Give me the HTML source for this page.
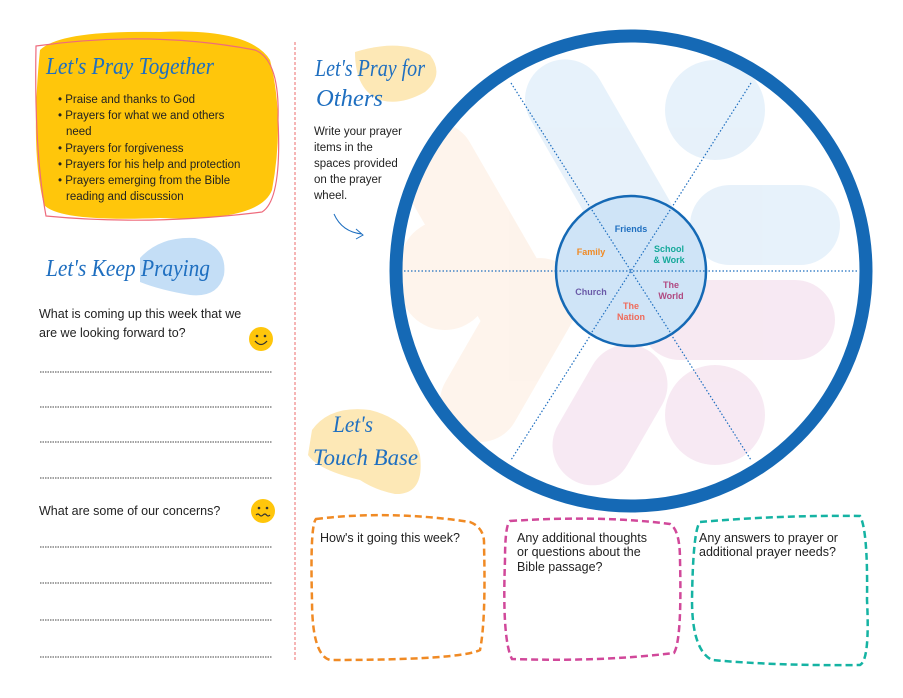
<!DOCTYPE html>
<html><head><meta charset="utf-8"><style>
body{margin:0;background:#fff;}
svg{display:block;font-family:"Liberation Sans",sans-serif;}
.s{font-family:"Liberation Serif",serif;font-style:italic;fill:#1f6fc0;}
</style></head><body>
<svg width="903" height="698" viewBox="0 0 903 698">
<path d="M40 50 Q60 30 160 32 Q250 28 270 60 Q285 120 272 190 Q260 222 160 218 Q60 222 44 205 Q30 150 40 50Z" fill="#ffc60b"/>
<path d="M36 46 Q150 30 255 50 Q280 60 278 120 Q282 200 262 212 Q150 226 46 216 Q34 150 36 46Z" fill="none" stroke="#ee6b7c" stroke-width="1.2"/>
<text x="46" y="74" class="s" font-size="24" textLength="168" lengthAdjust="spacingAndGlyphs">Let's Pray Together</text>
<g font-size="11.5" fill="#222">
<text x="58" y="103">• Praise and thanks to God</text>
<text x="58" y="119">• Prayers for what we and others</text>
<text x="66" y="135">need</text>
<text x="58" y="152">• Prayers for forgiveness</text>
<text x="58" y="168">• Prayers for his help and protection</text>
<text x="58" y="184">• Prayers emerging from the Bible</text>
<text x="66" y="200">reading and discussion</text>
</g>
<path d="M140 258 Q160 236 195 238 Q228 246 224 275 Q218 298 190 295 Q160 290 140 282Z" fill="#c4def6"/>
<text x="46" y="276" class="s" font-size="24" textLength="164" lengthAdjust="spacingAndGlyphs">Let's Keep Praying</text>
<g font-size="12.5" fill="#222">
<text x="39" y="318">What is coming up this week that we</text>
<text x="39" y="337">are we looking forward to?</text>
<text x="39" y="515">What are some of our concerns?</text>
</g>
<circle cx="261" cy="339" r="12" fill="#ffc60b"/>
<circle cx="257" cy="336" r="1.3" fill="#333"/><circle cx="265" cy="336" r="1.3" fill="#333"/>
<path d="M255 341 Q261 348 267 341" stroke="#333" fill="none" stroke-width="1.3"/>
<circle cx="263" cy="511" r="12" fill="#ffc60b"/>
<circle cx="259" cy="508" r="1.3" fill="#333"/><circle cx="267" cy="508" r="1.3" fill="#333"/>
<path d="M256 515 q2-2 3.5 0 t3.5 0 t3.5 0 t3.5 0" stroke="#333" fill="none" stroke-width="1.2"/>
<g stroke="#444" stroke-width="1" stroke-dasharray="1.5 1">
<line x1="40" y1="372" x2="272" y2="372"/><line x1="40" y1="407" x2="272" y2="407"/>
<line x1="40" y1="442" x2="272" y2="442"/><line x1="40" y1="478" x2="272" y2="478"/>
<line x1="40" y1="547" x2="272" y2="547"/><line x1="40" y1="583" x2="272" y2="583"/>
<line x1="40" y1="620" x2="272" y2="620"/><line x1="40" y1="657" x2="272" y2="657"/>
</g>
<line x1="295" y1="42" x2="295" y2="662" stroke="#ee6b6b" stroke-width="1" stroke-dasharray="3 2"/>
<path d="M355 52 Q400 38 430 55 Q445 75 425 92 Q400 106 380 100 Q355 90 355 52Z" fill="#fde8b6"/>
<text x="315" y="76" class="s" font-size="24" textLength="110" lengthAdjust="spacingAndGlyphs">Let's Pray for</text>
<text x="316" y="106" class="s" font-size="24" textLength="67" lengthAdjust="spacingAndGlyphs">Others</text>
<g font-size="11.5" fill="#222">
<text x="314" y="135">Write your prayer</text>
<text x="314" y="151">items in the</text>
<text x="314" y="167">spaces provided</text>
<text x="314" y="183">on the prayer</text>
<text x="314" y="199">wheel.</text>
</g>
<path d="M334 214 Q342 232 362 234 M356 229 L363 235 L356 239" stroke="#1f6fc0" fill="none" stroke-width="1"/>
<defs><clipPath id="c"><circle cx="631" cy="271" r="236"/></clipPath></defs>
<g clip-path="url(#c)" opacity="0.55">
<rect x="400" y="220" width="90" height="110" rx="45" fill="#fdebdc"/>
<rect x="440" y="110" width="80" height="260" rx="40" fill="#fdebdc" transform="rotate(-30 480 240)"/>
<rect x="470" y="250" width="80" height="200" rx="40" fill="#fdebdc" transform="rotate(30 510 350)"/>
<rect x="560" y="50" width="80" height="220" rx="40" fill="#d4e7f7" transform="rotate(-30 600 160)"/>
<circle cx="715" cy="110" r="50" fill="#d4e7f7"/>
<rect x="690" y="185" width="150" height="80" rx="40" fill="#d4e7f7"/>
<rect x="640" y="280" width="195" height="80" rx="40" fill="#f1d8e9"/>
<rect x="570" y="340" width="80" height="150" rx="40" fill="#f1d8e9" transform="rotate(30 610 415)"/>
<circle cx="715" cy="415" r="50" fill="#f1d8e9"/>
</g>
<circle cx="631" cy="271" r="235" fill="none" stroke="#1569b5" stroke-width="13"/>
<g stroke="#1f6fc0" stroke-width="1.2" stroke-dasharray="1.5 2">
<line x1="404" y1="271" x2="858" y2="271"/>
<line x1="511" y1="83" x2="751" y2="460"/>
<line x1="751" y1="83" x2="511" y2="460"/>
</g>
<circle cx="631" cy="271" r="75" fill="#cfe4f7" stroke="#1569b5" stroke-width="2.5"/>
<g stroke="#1f6fc0" stroke-width="1.2" stroke-dasharray="1.5 2">
<line x1="556" y1="271" x2="706" y2="271"/>
<line x1="590" y1="207" x2="672" y2="335"/>
<line x1="672" y1="207" x2="590" y2="335"/>
</g>
<g font-size="9" font-weight="bold" text-anchor="middle">
<text x="631" y="232" fill="#1f6fc0">Friends</text>
<text x="591" y="255" fill="#f08a24">Family</text>
<text x="669" y="252" fill="#15a99a">School</text>
<text x="669" y="263" fill="#15a99a">&amp; Work</text>
<text x="591" y="295" fill="#6a5aa8">Church</text>
<text x="671" y="288" fill="#b04a82">The</text>
<text x="671" y="299" fill="#b04a82">World</text>
<text x="631" y="309" fill="#ef6b5b">The</text>
<text x="631" y="320" fill="#ef6b5b">Nation</text>
</g>
<path d="M312 430 Q330 405 370 410 Q410 420 420 455 Q425 495 395 494 Q375 490 360 480 Q318 470 308 455Z" fill="#fde8b6"/>
<text x="333" y="432" class="s" font-size="23" textLength="40" lengthAdjust="spacingAndGlyphs">Let's</text>
<text x="313" y="465" class="s" font-size="23" textLength="105" lengthAdjust="spacingAndGlyphs">Touch Base</text>
<g fill="none" stroke-width="2.5" stroke-dasharray="7 4">
<path d="M316 519 Q390 510 470 522 Q485 528 484 545 Q486 620 480 650 Q460 660 330 660 Q312 655 312 600 Q310 525 316 519Z" stroke="#f08a24"/>
<path d="M510 521 Q600 515 670 524 Q680 530 680 560 Q682 640 674 653 Q600 662 512 659 Q502 640 505 560 Q505 525 510 521Z" stroke="#d1489a"/>
<path d="M700 522 Q780 515 860 516 Q868 530 867 600 Q870 660 860 665 Q780 666 712 660 Q692 650 692 600 Q693 530 700 522Z" stroke="#15b3a3"/>
</g>
<g font-size="12.5" fill="#222">
<text x="320" y="542">How's it going this week?</text>
<text x="517" y="542">Any additional thoughts</text>
<text x="517" y="556">or questions about the</text>
<text x="517" y="571">Bible passage?</text>
<text x="699" y="542">Any answers to prayer or</text>
<text x="699" y="556">additional prayer needs?</text>
</g>
</svg>
</body></html>
